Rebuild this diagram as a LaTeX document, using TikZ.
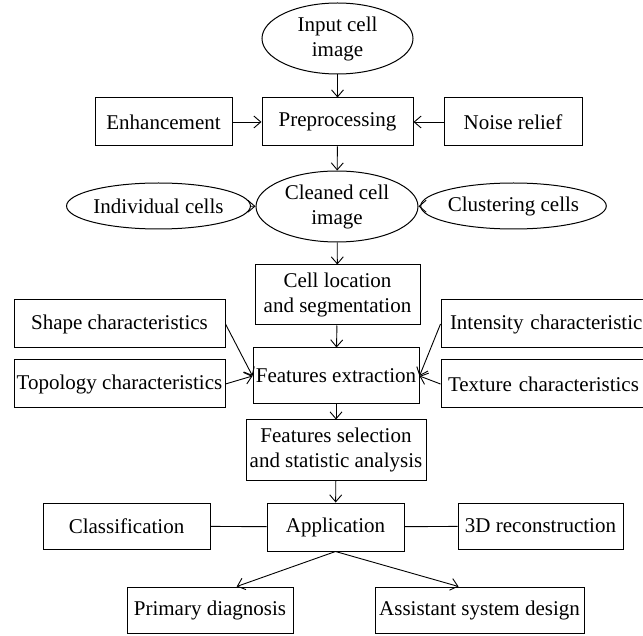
\documentclass[tikz,border=0pt]{standalone}
\usepackage{fontspec}
\setmainfont{Liberation Serif}
\usetikzlibrary{arrows.meta,shapes.geometric,calc}
\begin{document}
\begin{tikzpicture}[x=1pt,y=-1pt,
  every node/.style={font=\fontsize{21}{25}\selectfont, inner sep=0pt, align=center},
  box/.style={draw, rectangle, line width=1pt},
  oval/.style={draw, ellipse, line width=1pt},
  arr/.style={line width=0.9pt, -{Straight Barb[length=7pt,width=12pt,line width=0.9pt]}},
  ln/.style={line width=0.9pt}]
\clip (0,0) rectangle (643,636);
\fill[white] (0,0) rectangle (643,636);
% top
\node[oval, minimum width=151, minimum height=71] (input) at (337.5,38.5) {Input cell\\image};
\node[box, minimum width=151, minimum height=48] (pre) at (337.5,122) {Preprocessing};
\node[box, minimum width=137, minimum height=48] (enh) at (163.5,122) {Enhancement};
\node[box, minimum width=138, minimum height=48] (noise) at (513,122) {Noise relief};
\node[oval, minimum width=162, minimum height=71] (clean) at (337,206.5) {Cleaned cell\\image};
\node[oval, minimum width=153, minimum height=46] (indiv) at (158.5,206) {Individual cells};
\node[oval, minimum width=139, minimum height=46] (clust) at (513.5,206) {Clustering cells};
\node[box, minimum width=165, minimum height=60] (loc) at (337.5,295) {Cell location\\and segmentation};
\node[box, minimum width=211, minimum height=48] (shape) at (119.5,324) {Shape characteristics};
\node[box, minimum width=211, minimum height=48] (topo) at (119.5,384) {Topology characteristics};
\node[box, minimum width=166, minimum height=56] (fe) at (336,376) {Features extraction};
\node[box, minimum width=220, minimum height=48, text width=220, align=left] (inten) at (551,324) {\hspace*{9pt}Intensity characteristics};
\node[box, minimum width=220, minimum height=48, text width=220, align=left] (text) at (551,384) {\hspace*{7pt}Texture characteristics};
\node[box, minimum width=180, minimum height=60] (sel) at (336,450) {Features selection\\and statistic analysis};
\node[box, minimum width=137, minimum height=48] (app) at (335.5,527) {Application};
\node[box, minimum width=167, minimum height=46] (cls) at (126.5,526) {Classification};
\node[box, minimum width=165, minimum height=46] (rec) at (540.5,526) {3D reconstruction};
\node[box, minimum width=166, minimum height=46] (prim) at (210,610) {Primary diagnosis};
\node[box, minimum width=209, minimum height=46] (assist) at (479.5,610) {Assistant system design};
% connectors
\draw[arr] (input) -- (pre);
\draw[arr] (enh) -- (pre);
\draw[arr] (noise) -- (pre);
\draw[arr] (pre) -- (clean);
\draw[arr] (indiv) -- (clean);
\draw[arr] (clust) -- (clean);
\draw[arr] (clean) -- (loc);
\draw[arr] (loc) -- (fe);
\draw[arr] (shape.east) -- (fe.west);
\draw[arr] (topo.east) -- (fe.west);
\draw[arr] (inten.west) -- (fe.east);
\draw[arr] (text.west) -- (fe.east);
\draw[arr] (fe) -- (sel);
\draw[arr] (sel) -- (app);
\draw[ln] (cls) -- (app);
\draw[ln] (app) -- (rec);
\draw[arr] (app.south) -- ($(prim.north west)!0.66!(prim.north east)$);
\draw[arr] (app.south) -- ($(assist.north west)!0.40!(assist.north east)$);
\end{tikzpicture}
\end{document}
